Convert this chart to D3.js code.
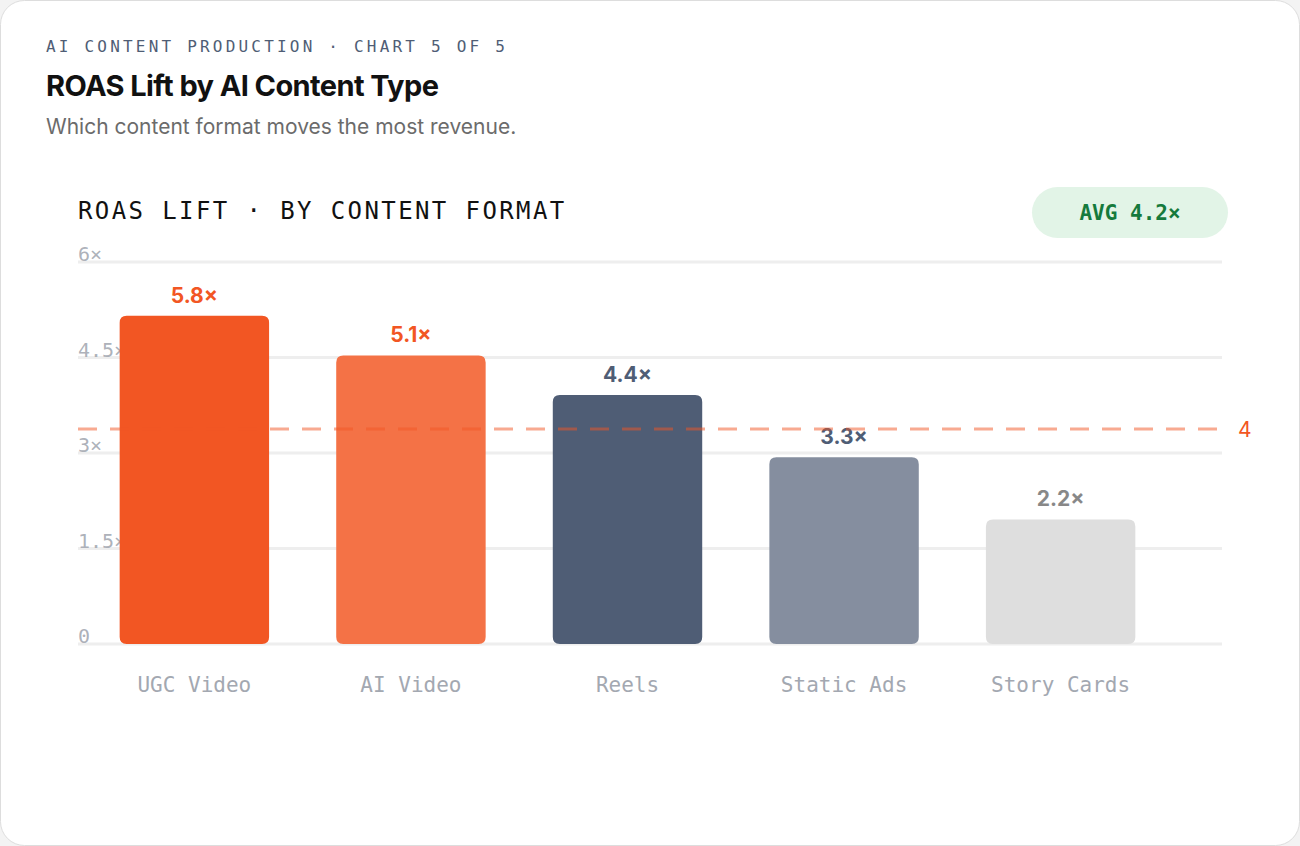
<!DOCTYPE html>
<html>
<head>
<meta charset="utf-8">
<script src="https://cdn.jsdelivr.net/npm/d3@7"></script>
<style>
  body { margin: 0; background: #f3f3f3; }
  .mono { font-family: "DejaVu Sans Mono", monospace; }
  .sans { font-family: Inter, "Liberation Sans", sans-serif; }
</style>
</head>
<body>
<div id="chart"></div>
<script>
// Data
const formats = ["UGC Video", "AI Video", "Reels", "Static Ads", "Story Cards"];
const lifts = [5.8, 5.1, 4.4, 3.3, 2.2];
const barColors = ["#f25623", "#f47246", "#4f5d75", "#858e9f", "#dedede"];
const labelColors = ["#f25623", "#f25623", "#4f5d75", "#4f5d75", "#888888"];
const yTicks = [0, 1.5, 3, 4.5, 6];
const refValue = 3.8;
const refLabel = "4";
const avgText = "AVG 4.2×";

const width = 1300, height = 846;
const svg = d3.select("#chart").append("svg")
    .attr("width", width).attr("height", height)
    .style("display", "block");

// Card
svg.append("rect")
    .attr("x", 0.5).attr("y", 0.5).attr("width", width - 1).attr("height", height - 1)
    .attr("rx", 24).attr("fill", "#ffffff").attr("stroke", "#dddddd");

// Header
svg.append("text").attr("class", "mono")
    .attr("x", 46).attr("y", 52).attr("font-size", 16)
    .attr("letter-spacing", 3.2).attr("fill", "#4f5d75")
    .text("AI CONTENT PRODUCTION · CHART 5 OF 5");
svg.append("text").attr("class", "sans")
    .attr("x", 46).attr("y", 96).attr("font-size", 29).attr("font-weight", 700)
    .attr("letter-spacing", -0.6).attr("fill", "#111111")
    .text("ROAS Lift by AI Content Type");
svg.append("text").attr("class", "sans")
    .attr("x", 46).attr("y", 134).attr("font-size", 21).attr("fill", "#6b6b6b")
    .text("Which content format moves the most revenue.");

svg.append("text").attr("class", "mono")
    .attr("x", 78).attr("y", 219).attr("font-size", 24)
    .attr("letter-spacing", 2.4).attr("fill", "#111111")
    .text("ROAS LIFT · BY CONTENT FORMAT");

// Avg pill
svg.append("rect")
    .attr("x", 1032).attr("y", 187).attr("width", 196).attr("height", 51)
    .attr("rx", 25.5).attr("fill", "#e2f4e7");
svg.append("text").attr("class", "mono")
    .attr("x", 1130).attr("y", 220).attr("text-anchor", "middle")
    .attr("font-size", 21).attr("font-weight", 700).attr("fill", "#157a3c")
    .text(avgText);

// Scales
const left = 78, right = 1222, baseY = 644, topY = 262;
const xScale = d3.scaleBand().domain(formats).range([98, 1157]).paddingInner(0.31).paddingOuter(0.1);
const yAxisScale = d3.scaleLinear().domain([0, 6]).range([baseY, topY]);
const yBar = d3.scaleLinear().domain([0, 6.75]).range([baseY, topY]);

// Grid + ticks
const grid = svg.append("g");
grid.selectAll("line").data(yTicks).join("line")
    .attr("x1", left).attr("x2", right)
    .attr("y1", d => yAxisScale(d)).attr("y2", d => yAxisScale(d))
    .attr("stroke", "#eeeeee").attr("stroke-width", 3);

// Bars
svg.append("g").selectAll("path").data(lifts).join("path")
    .attr("d", (d, i) => {
        const x = xScale(formats[i]), w = xScale.bandwidth(), y = yBar(d), r = 7;
        return `M${x},${baseY}V${y + r}Q${x},${y} ${x + r},${y}H${x + w - r}Q${x + w},${y} ${x + w},${y + r}V${baseY - r}Q${x + w},${baseY} ${x + w - r},${baseY}H${x + r}Q${x},${baseY} ${x},${baseY - r}Z`;
    })
    .attr("fill", (d, i) => barColors[i]);

grid.selectAll("text").data(yTicks).join("text")
    .attr("class", "mono")
    .attr("x", left).attr("y", d => yAxisScale(d) - 1)
    .attr("font-size", 20).attr("fill", "#a3a8b1").attr("fill-opacity", 0.9)
    .text(d => d + "×" === "0×" ? "0" : d + "×");

// Value labels
svg.append("g").selectAll("text").data(lifts).join("text")
    .attr("class", "sans")
    .attr("x", (d, i) => xScale(formats[i]) + xScale.bandwidth() / 2)
    .attr("y", d => yBar(d) - 13)
    .attr("text-anchor", "middle").attr("font-size", 21).attr("font-weight", 700)
    .attr("fill", (d, i) => labelColors[i])
    .text(d => d + "×");

// Reference line
svg.append("line")
    .attr("x1", left).attr("x2", 1228)
    .attr("y1", yBar(refValue)).attr("y2", yBar(refValue))
    .attr("stroke", "#f25623").attr("stroke-opacity", 0.5)
    .attr("stroke-width", 3).attr("stroke-dasharray", "19 13");
svg.append("text").attr("class", "sans")
    .attr("x", 1238).attr("y", yBar(refValue) + 8)
    .attr("font-size", 21).attr("fill", "#f25623")
    .text(refLabel);

// X labels
svg.append("g").selectAll("text").data(formats).join("text")
    .attr("class", "mono")
    .attr("x", d => xScale(d) + xScale.bandwidth() / 2).attr("y", 692)
    .attr("text-anchor", "middle").attr("font-size", 21).attr("fill", "#a3a8b1")
    .text(d => d);
</script>
</body>
</html>
